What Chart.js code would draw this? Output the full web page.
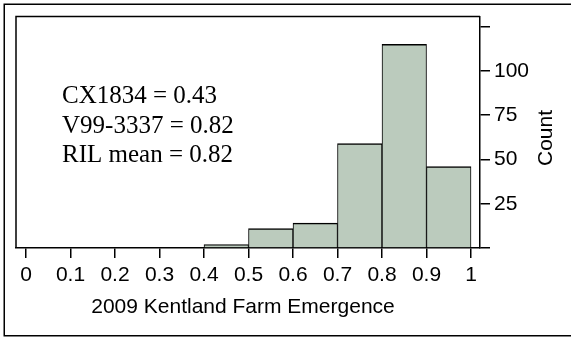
<!DOCTYPE html>
<html>
<head>
<meta charset="utf-8">
<script src="https://cdn.jsdelivr.net/npm/chart.js@4"></script>
<style>
  html, body { margin: 0; padding: 0; background: #ffffff; }
  #wrap { width: 571px; height: 338px; position: relative; }
</style>
</head>
<body>
<div id="wrap"><canvas id="c" width="571" height="338"></canvas></div>
<script>
// ---- data ----
const binStarts = [0.4, 0.5, 0.6, 0.7, 0.8, 0.9];
const binWidth = 0.1;
const counts = [2, 11, 14, 59, 115, 46];
const xTickValues = [0, 0.1, 0.2, 0.3, 0.4, 0.5, 0.6, 0.7, 0.8, 0.9, 1];
const xTickLabels = ['0', '0.1', '0.2', '0.3', '0.4', '0.5', '0.6', '0.7', '0.8', '0.9', '1'];
const yTickValues = [0, 25, 50, 75, 100, 125];
const yTickLabels = ['', '25', '50', '75', '100', ''];
const xTitle = '2009 Kentland Farm Emergence';
const yTitle = 'Count';
const annotationLines = ['CX1834 = 0.43', 'V99-3337 = 0.82', 'RIL mean = 0.82'];

const SANS = "'Liberation Sans', Arial, sans-serif";
const SERIF = "'Liberation Serif', 'Times New Roman', serif";

const points = binStarts.map((s, i) => ({ x: s + binWidth / 2, y: counts[i] }));

const decor = {
  id: 'decor',
  afterDraw(chart) {
    const ctx = chart.ctx;
    const a = chart.chartArea;
    ctx.save();
    // outer frame
    ctx.strokeStyle = '#000';
    ctx.lineWidth = 1.5;
    ctx.strokeRect(4.25, 4.25, 580, 331.5);
    // inner box (top + left sides)
    ctx.beginPath();
    ctx.moveTo(a.left, a.bottom);
    ctx.lineTo(a.left, a.top);
    ctx.lineTo(a.right, a.top);
    ctx.stroke();
    // annotation text
    ctx.fillStyle = '#000';
    ctx.font = '25px ' + SERIF;
    ctx.textAlign = 'left';
    ctx.textBaseline = 'alphabetic';
    annotationLines.forEach((t, i) => ctx.fillText(t, 62, 103 + i * 29.5));
    // x axis title
    ctx.font = '21px ' + SANS;
    ctx.textAlign = 'center';
    ctx.fillText(xTitle, 243, 313);
    // y axis title (reads bottom to top)
    ctx.translate(546, 138);
    ctx.rotate(-Math.PI / 2);
    ctx.textBaseline = 'middle';
    ctx.fillText(yTitle, 0, 0);
    ctx.restore();
  }
};

new Chart(document.getElementById('c'), {
  type: 'bar',
  data: {
    datasets: [{
      data: points,
      backgroundColor: 'rgb(187,203,189)',
      borderColor: '#000',
      borderWidth: { top: 1.5, left: 1, right: 1, bottom: 0 },
      borderSkipped: false,
      barPercentage: 1,
      categoryPercentage: 1
    }]
  },
  options: {
    responsive: false,
    animation: false,
    devicePixelRatio: 1,
    layout: { padding: { left: 16, top: 16, right: 0, bottom: 0 } },
    plugins: { legend: { display: false }, tooltip: { enabled: false }, title: { display: false } },
    scales: {
      x: {
        type: 'linear',
        position: 'bottom',
        offset: false,
        min: -0.0225,
        max: 1.0202,
        afterBuildTicks: (s) => { s.ticks = xTickValues.map(v => ({ value: v })); },
        afterFit: (s) => { s.height = 90; },
        ticks: {
          autoSkip: false,
          maxRotation: 0,
          padding: 5,
          color: '#000',
          font: { family: SANS, size: 21 },
          callback: (v) => { const i = xTickValues.findIndex(t => Math.abs(t - v) < 1e-6); return i >= 0 ? xTickLabels[i] : ''; }
        },
        grid: { display: true, offset: false, drawOnChartArea: false, drawTicks: true, tickLength: 10, color: '#000', lineWidth: 1.5 },
        border: { display: true, color: '#000', width: 1.5 }
      },
      y: {
        type: 'linear',
        position: 'right',
        min: 0,
        max: 130.6,
        afterBuildTicks: (s) => { s.ticks = yTickValues.map(v => ({ value: v })); },
        afterFit: (s) => { s.width = 91; },
        ticks: {
          padding: 4,
          color: '#000',
          font: { family: SANS, size: 21 },
          callback: (v) => { const i = yTickValues.indexOf(v); return i >= 0 ? yTickLabels[i] : ''; }
        },
        grid: { display: true, drawOnChartArea: false, drawTicks: true, tickLength: 10, color: '#000', lineWidth: 1.5 },
        border: { display: true, color: '#000', width: 1.5 }
      }
    }
  },
  plugins: [decor]
});
</script>
</body>
</html>
